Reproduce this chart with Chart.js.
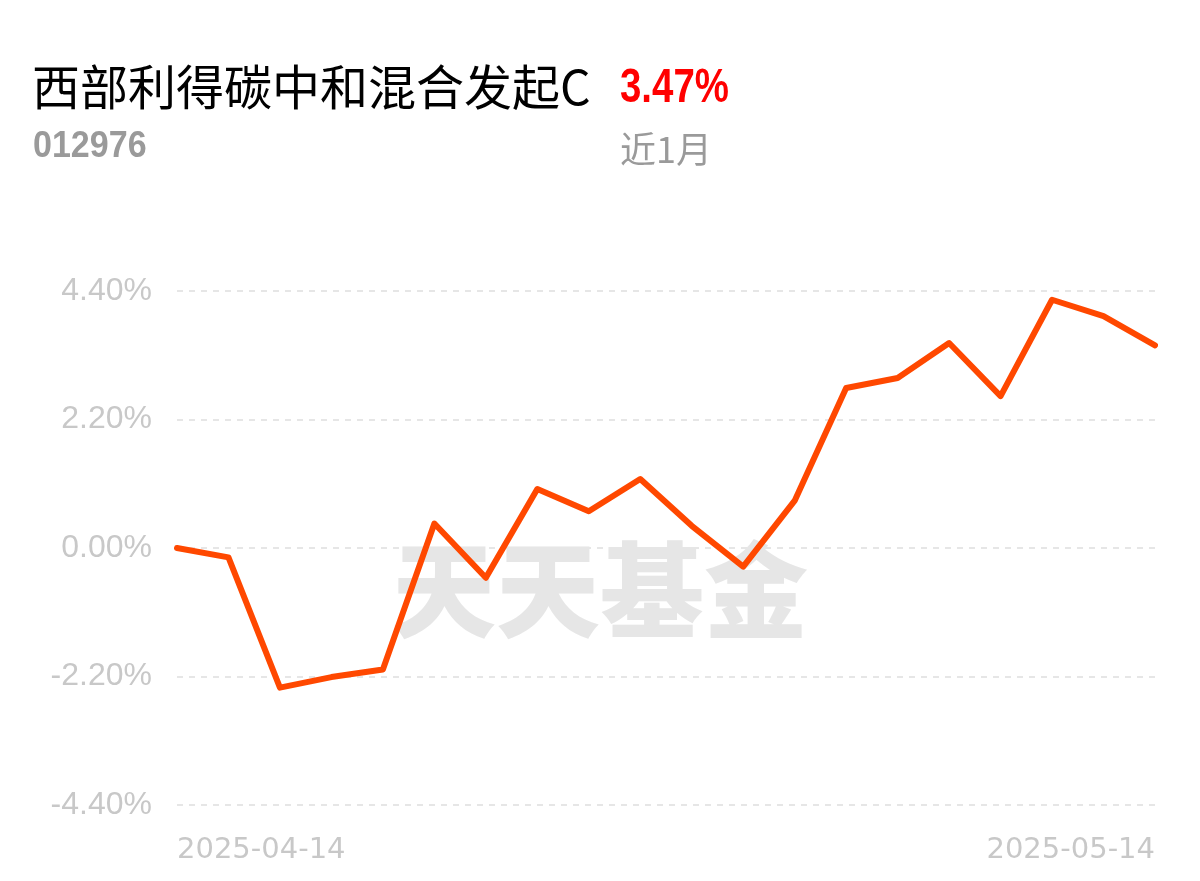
<!DOCTYPE html>
<html>
<head>
<meta charset="utf-8">
<script src="https://cdn.jsdelivr.net/npm/chart.js@4.4.0/dist/chart.umd.min.js"></script>
<style>
  body { margin: 0; background: #fff; }
  #wrap { position: relative; width: 1200px; height: 881px; }
  #grafico { position: absolute; left: 0; top: 0; }
  .txt { position: absolute; white-space: nowrap; line-height: 1; }
  #titulo { left: 32px; top: 49px; font: 48px 'Noto Sans CJK SC', sans-serif; color: #000; }
  #codigo { left: 33px; top: 124px; font: bold 37px 'Liberation Sans', sans-serif; color: #9a9a9a; transform: scaleX(0.92); transform-origin: left top; }
  #retorno { left: 620px; top: 58px; font: bold 48px 'Liberation Sans', sans-serif; color: #ff0000; transform: scaleX(0.8); transform-origin: left top; }
  #periodo { left: 620px; top: 121px; font: 36px 'Noto Sans CJK SC', sans-serif; color: #9a9a9a; }
</style>
</head>
<body>
<div id="wrap">
  <canvas id="grafico" width="1200" height="881"></canvas>
  <div class="txt" id="titulo">西部利得碳中和混合发起C</div>
  <div class="txt" id="codigo">012976</div>
  <div class="txt" id="retorno">3.47%</div>
  <div class="txt" id="periodo">近1月</div>
</div>
<script>
// datas (dias úteis de 14/04 a 14/05)
var datas = ['2025-04-14', '2025-04-15', '2025-04-16', '2025-04-17', '2025-04-18',
  '2025-04-21', '2025-04-22', '2025-04-23', '2025-04-24', '2025-04-25',
  '2025-04-28', '2025-04-29', '2025-04-30',
  '2025-05-06', '2025-05-07', '2025-05-08', '2025-05-09',
  '2025-05-12', '2025-05-13', '2025-05-14'];

// rendimento acumulado (%)
var rendimento = [0.00, -0.16, -2.39, -2.21, -2.08,
  0.42, -0.51, 1.01, 0.63, 1.18,
  0.38, -0.32, 0.81,
  2.74, 2.91, 3.51, 2.60,
  4.25, 3.97, 3.47];

var ticksY = [-4.40, -2.20, 0.00, 2.20, 4.40];
var marcaDagua = '天天基金';

var corLinha = '#ff4800';
var corTexto = '#c8c8c8';
var corGrade = '#e6e6e6';

// marca d'agua atras da linha
var pluginMarca = {
  id: 'marca',
  beforeDatasetsDraw: function(chart) {
    var ctx = chart.ctx;
    ctx.save();
    ctx.font = '900 104px "Noto Sans CJK SC"';
    ctx.fillStyle = '#e6e6e6';
    ctx.textAlign = 'center';
    ctx.textBaseline = 'middle';
    ctx.fillText(marcaDagua, 600, 590);
    ctx.restore();
  }
};

var ctx = document.getElementById('grafico').getContext('2d');

var myChart = new Chart(ctx, {
  type: 'line',
  data: {
    labels: datas,
    datasets: [{
      data: rendimento,
      borderColor: corLinha,
      borderWidth: 6,
      borderCapStyle: 'round',
      borderJoinStyle: 'round',
      pointRadius: 0,
      tension: 0,
      fill: false
    }]
  },
  options: {
    responsive: false,
    animation: false,
    layout: {
      padding: { top: 291, right: 45, left: 0, bottom: 0 }
    },
    plugins: {
      legend: { display: false },
      tooltip: { enabled: false }
    },
    scales: {
      x: {
        grid: { display: false },
        border: { display: false },
        afterFit: function(scale) { scale.height = 76; },
        ticks: {
          autoSkip: false,
          maxRotation: 0,
          align: 'inner',
          padding: 20,
          color: corTexto,
          font: { family: 'DejaVu Sans', size: 29 },
          callback: function(valor, indice) {
            if (indice === 0 || indice === datas.length - 1) return datas[indice];
            return '';
          }
        }
      },
      y: {
        min: -4.4,
        max: 4.4,
        afterFit: function(scale) { scale.width = 177; },
        afterBuildTicks: function(scale) {
          scale.ticks = ticksY.map(function(v) { return { value: v }; });
        },
        grid: {
          color: corGrade,
          lineWidth: 2,
          drawTicks: false
        },
        border: { display: false, dash: [6, 6] },
        ticks: {
          padding: 25,
          color: corTexto,
          font: { family: 'Liberation Sans', size: 32 },
          callback: function(valor) { return valor.toFixed(2) + '%'; }
        }
      }
    }
  },
  plugins: [pluginMarca]
});
</script>
</body>
</html>
